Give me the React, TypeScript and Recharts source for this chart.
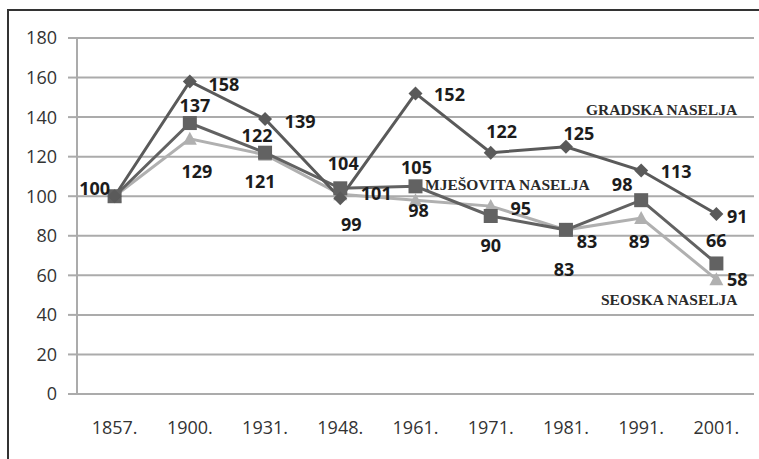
import { LineChart, Line, XAxis, YAxis, CartesianGrid, LabelList } from 'recharts';

// index = 100 in 1857.
const YEARS = ['1857.', '1900.', '1931.', '1948.', '1961.', '1971.', '1981.', '1991.', '2001.'];
const GRADSKA = [100, 158, 139, 99, 152, 122, 125, 113, 91];
const MJESOVITA = [100, 137, 122, 104, 105, 90, 83, 98, 66];
const SEOSKA = [100, 129, 121, 101, 98, 95, 83, 89, 58];
const Y_TICKS = [0, 20, 40, 60, 80, 100, 120, 140, 160, 180];

const data = YEARS.map((year, i) => ({
  i,
  year,
  gradska: GRADSKA[i],
  mjesovita: MJESOVITA[i],
  seoska: SEOSKA[i],
}));

// where each value label sits, relative to its point (null = not shown)
type Off = [number, number] | null;
const OFF_GRADSKA: Off[] = [[-20, -8], [34, 2], [35, 2], [11, 26], [34, 1], [11, -22], [13, -14], [35, 0], [21, 2]];
const OFF_MJESOVITA: Off[] = [null, [5, -18], [-8, -18], [3, -25], [1, -19], [0, 29], [-2, 39], [-19, -16], [0, -23]];
const OFF_SEOSKA: Off[] = [null, [7, 32], [-5, 26], [36, -1], [3, 10], [30, 2], [21, 11], [-2, 23], [21, 0]];

const GRID = '#ababab';
const DARK = '#5a5a5a';
const MID = '#626262';
const LIGHT = '#b0b0b0';
const TICK_FONT = { fontFamily: "'Open Sans', sans-serif", fontSize: 18, fill: '#333' };

const valueLabel = (offsets: Off[]) => (props: any) => {
  const { x, y, value, index } = props;
  const o = offsets[index];
  if (!o) return null;
  return (
    <text
      key={`l-${index}`}
      x={x + o[0]}
      y={y + o[1]}
      textAnchor="middle"
      dominantBaseline="central"
      fontFamily="'Open Sans', sans-serif"
      fontWeight={700}
      fontSize={18}
      fill="#1c1c1c"
    >
      {value}
    </text>
  );
};

const diamond = (props: any) => {
  const { cx, cy, index } = props;
  const r = 7;
  return <path key={`d-${index}`} d={`M${cx},${cy - r}L${cx + r},${cy}L${cx},${cy + r}L${cx - r},${cy}Z`} fill={DARK} />;
};

const square = (props: any) => {
  const { cx, cy, index } = props;
  return <rect key={`s-${index}`} x={cx - 7} y={cy - 7} width={14} height={14} fill={MID} />;
};

const triangle = (props: any) => {
  const { cx, cy, index } = props;
  return <path key={`t-${index}`} d={`M${cx},${cy - 7}L${cx + 7},${cy + 6}L${cx - 7},${cy + 6}Z`} fill={LIGHT} />;
};

const seriesName: React.CSSProperties = {
  position: 'absolute',
  fontFamily: "'Liberation Serif', serif",
  fontWeight: 700,
  fontSize: 15.5,
  color: '#2a2a2a',
  whiteSpace: 'nowrap',
  lineHeight: '16px',
};

export default function App() {
  const bounds = [...YEARS.map((_, i) => i - 0.5), YEARS.length - 0.5];
  return (
    <div style={{ position: 'relative', width: 759, height: 459, overflow: 'hidden', background: '#fff' }}>
      <style>{`html,body{margin:0;padding:0;overflow:hidden;background:#fff}`}</style>
      <div style={{ position: 'absolute', left: 7, top: 9, width: 800, height: 500, border: '2px solid #333' }} />

      <div style={{ ...seriesName, left: 586, top: 102 }}>GRADSKA NASELJA</div>
      <div style={{ ...seriesName, left: 425, top: 177 }}>MJEŠOVITA NASELJA</div>
      <div style={{ ...seriesName, left: 601, top: 292 }}>SEOSKA NASELJA</div>

      <div style={{ position: 'absolute', left: 0, top: 0 }}>
        <LineChart width={759} height={459} data={data} margin={{ top: 38, right: 5, bottom: 0, left: 0 }}>
          <CartesianGrid vertical={false} stroke={GRID} strokeWidth={2} />
          <XAxis
            xAxisId="b"
            type="number"
            domain={[-0.5, YEARS.length - 0.5]}
            ticks={bounds}
            allowDataOverflow
            height={0}
            tick={false}
            tickSize={7}
            stroke={GRID}
            strokeWidth={2}
          />
          <XAxis
            dataKey="i"
            type="number"
            domain={[-0.5, YEARS.length - 0.5]}
            ticks={YEARS.map((_, i) => i)}
            tickFormatter={(v: number) => YEARS[v]}
            allowDataOverflow
            axisLine={false}
            tickLine={false}
            height={65}
            tickSize={6}
            tickMargin={21}
            tick={TICK_FONT}
          />
          <YAxis
            domain={[0, 180]}
            ticks={Y_TICKS}
            width={77}
            stroke={GRID}
            strokeWidth={2}
            tickSize={9}
            tickMargin={11}
            tick={TICK_FONT}
          />
          <Line dataKey="seoska" stroke={LIGHT} strokeWidth={3} dot={triangle} activeDot={false} isAnimationActive={false}>
            <LabelList dataKey="seoska" content={valueLabel(OFF_SEOSKA)} />
          </Line>
          <Line dataKey="mjesovita" stroke={MID} strokeWidth={3} dot={square} activeDot={false} isAnimationActive={false}>
            <LabelList dataKey="mjesovita" content={valueLabel(OFF_MJESOVITA)} />
          </Line>
          <Line dataKey="gradska" stroke={DARK} strokeWidth={3} dot={diamond} activeDot={false} isAnimationActive={false}>
            <LabelList dataKey="gradska" content={valueLabel(OFF_GRADSKA)} />
          </Line>
        </LineChart>
      </div>
    </div>
  );
}
